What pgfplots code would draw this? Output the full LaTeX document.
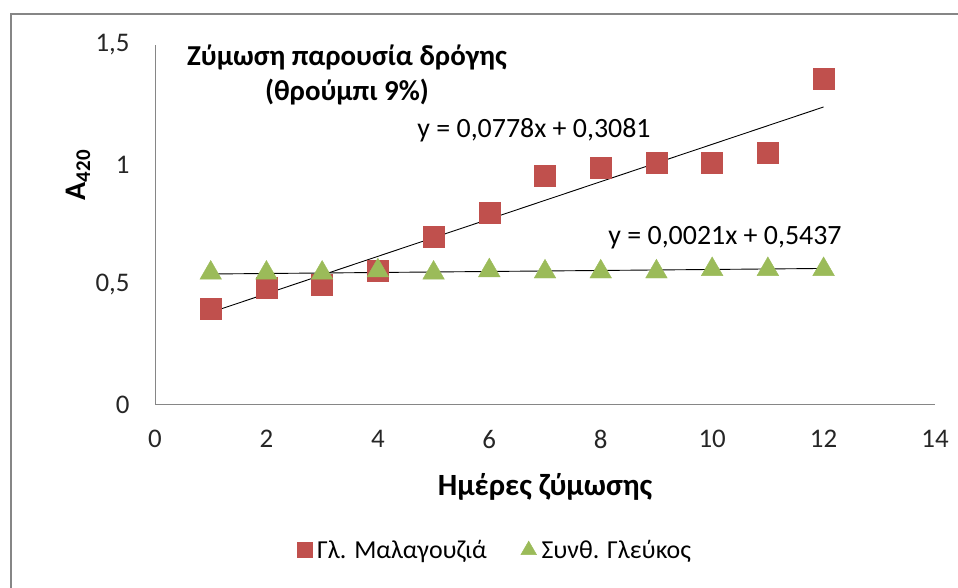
\documentclass[border=0pt]{standalone}
\usepackage{fontspec}
\setmainfont{Carlito}
\usepackage{pgfplots}
\pgfplotsset{compat=1.18}
\definecolor{exred}{HTML}{C0504D}
\definecolor{exgreen}{HTML}{9BBB59}
\definecolor{axisgray}{HTML}{868686}
\pgfplotsset{smallmark/.style={legend image code/.code={\draw[##1, mark size=#1] plot coordinates {(0bp,0bp)};}}}
\begin{document}
\begin{tikzpicture}[x=1bp,y=1bp]
\begin{axis}[
  at={(155bp,183bp)}, anchor=south west,
  width=780bp, height=360bp, scale only axis,
  xmin=0, xmax=14, ymin=0, ymax=1.5,
  xtick={0,2,...,14}, ytick={0,0.5,1,1.5},
  axis x line*=bottom, axis y line*=left,
  axis line style={-, color=axisgray, line width=1bp},
  major tick length=0pt,
  /pgf/number format/assume math mode=true,
  /pgf/number format/use comma,
  /pgf/number format/fixed,
  ticklabel style={font=\fontsize{27}{31}\selectfont, color=black!85},
  xticklabel style={yshift=-22bp},
  yticklabel style={xshift=-22bp},
  legend style={at={(0.436,-0.403)}, anchor=center, draw=none,
    font=\fontsize{26}{30}\selectfont, legend columns=2,
    /tikz/every odd column/.append style={column sep=3bp},
    /tikz/every even column/.append style={column sep=32bp}},
  legend cell align=left,
]
\addplot[only marks, mark=square*, mark size=10.5bp, color=exred, smallmark=7.5bp]
  coordinates {(1,0.40) (2,0.49) (3,0.50) (4,0.56) (5,0.70) (6,0.80) (7,0.955) (8,0.99) (9,1.01) (10,1.01) (11,1.05) (12,1.36)};
\addlegendentry{Γλ. Μαλαγουζιά}
\addplot[only marks, mark=triangle*, mark size=12.5bp, color=exgreen, smallmark=9bp]
  coordinates {(1,0.55) (2,0.55) (3,0.55) (4,0.56) (5,0.55) (6,0.56) (7,0.555) (8,0.555) (9,0.555) (10,0.565) (11,0.565) (12,0.565)};
\addlegendentry{Συνθ. Γλεύκος}
\addplot[black, line width=0.9bp, forget plot] coordinates {(1,0.3859) (12,1.2417)};
\addplot[black, line width=0.9bp, forget plot] coordinates {(1,0.5458) (12,0.5689)};
\end{axis}
\draw[axisgray, line width=2bp] (11,0) -- (11,574) -- (958,574);
\node[align=center, font=\fontsize{29}{36}\selectfont\bfseries] at (347,513) {Ζύμωση παρουσία δρόγης\\(θρούμπι 9\%)};
\node[font=\fontsize{28}{32}\selectfont] at (534,458) {y = 0,0778x + 0,3081};
\node[font=\fontsize{28}{32}\selectfont] at (725,350) {y = 0,0021x + 0,5437};
\node[rotate=90, font=\fontsize{30}{34}\selectfont\bfseries] at (78,413) {A\textsubscript{420}};
\node[font=\fontsize{31}{35}\selectfont\bfseries] at (545,101) {Ημέρες ζύμωσης};
\pgfresetboundingbox
\path[use as bounding box] (0,0) rectangle (958,588);
\end{tikzpicture}
\end{document}
